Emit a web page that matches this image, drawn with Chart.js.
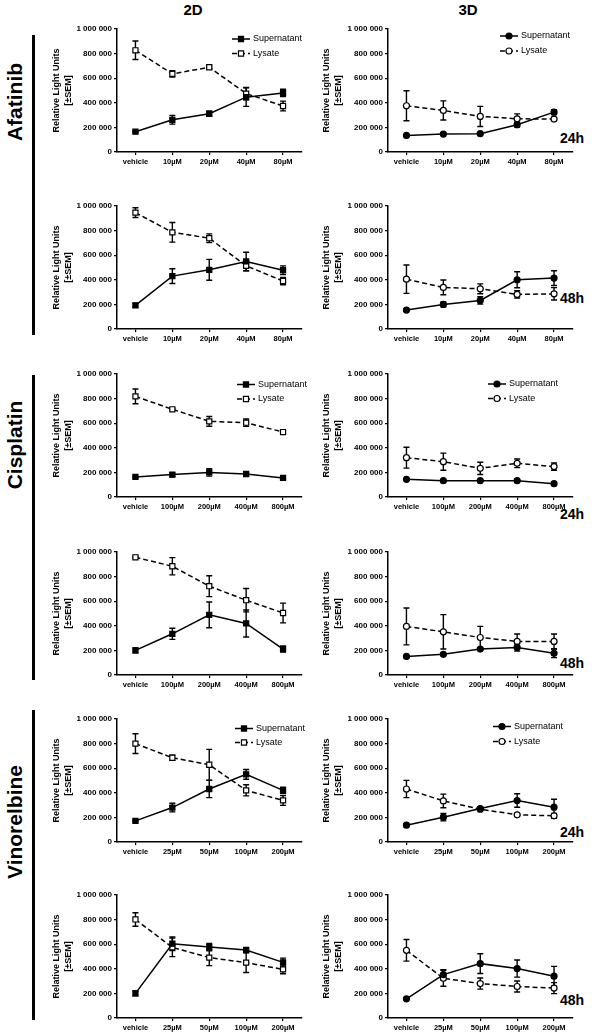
<!DOCTYPE html>
<html><head><meta charset="utf-8">
<script src="https://cdn.jsdelivr.net/npm/chart.js@4.4.1/dist/chart.umd.min.js"></script>
<style>
body{margin:0;background:#fff;width:600px;height:1033px;position:relative;overflow:hidden;font-family:'Liberation Sans',Arial,sans-serif;color:#000;}
.box{position:absolute;width:270px;height:155px;}
.hdr{position:absolute;font-weight:bold;font-size:15px;width:60px;text-align:center;line-height:16px;}
.drug{position:absolute;font-weight:bold;font-size:21px;width:200px;height:24px;line-height:24px;text-align:center;transform:rotate(-90deg);}
.vbar{position:absolute;background:#000;width:3px;}
.time{position:absolute;font-weight:bold;font-size:14px;line-height:16px;}
</style>
</head><body>
<div class="hdr" style="left:163px;top:2px;">2D</div>
<div class="hdr" style="left:438px;top:2px;">3D</div>
<div class="drug" style="left:-85px;top:90px;">Afatinib</div>
<div class="drug" style="left:-85px;top:433px;">Cisplatin</div>
<div class="drug" style="left:-85px;top:810px;">Vinorelbine</div>
<div class="vbar" style="left:32px;top:35px;height:300px;"></div>
<div class="vbar" style="left:32px;top:375px;height:305px;"></div>
<div class="vbar" style="left:32px;top:710px;height:310px;"></div>
<div class="time" style="left:560px;top:130px;">24h</div>
<div class="time" style="left:560px;top:290px;">48h</div>
<div class="time" style="left:560px;top:506px;">24h</div>
<div class="time" style="left:560px;top:655px;">48h</div>
<div class="time" style="left:560px;top:824px;">24h</div>
<div class="time" style="left:560px;top:992px;">48h</div>
<div id="wrap"></div>
<script>
// ---- categories ----
const dosesAfatinib = ['vehicle','10µM','20µM','40µM','80µM'];
const dosesCisplatin = ['vehicle','100µM','200µM','400µM','800µM'];
const dosesVinorelbine = ['vehicle','25µM','50µM','100µM','200µM'];
const seriesNames = ['Supernatant','Lysate'];
const yTickStep = 200000;
const yMax = 1000000;

// ---- Afatinib ----
const afa24_2d_sup = [165000, 262000, 311000, 446000, 480000];
const afa24_2d_supSem = [8000, 35000, 20000, 75000, 30000];
const afa24_2d_lys = [827000, 635000, 689000, 475000, 374000];
const afa24_2d_lysSem = [75000, 25000, 10000, 50000, 40000];
const afa24_3d_sup = [135000, 146000, 149000, 222000, 324000];
const afa24_3d_supSem = [5000, 5000, 5000, 20000, 20000];
const afa24_3d_lys = [376000, 338000, 289000, 270000, 268000];
const afa24_3d_lysSem = [122000, 78000, 82000, 40000, 12000];
const afa48_2d_sup = [192000, 430000, 481000, 549000, 478000];
const afa48_2d_supSem = [15000, 60000, 85000, 75000, 35000];
const afa48_2d_lys = [946000, 786000, 738000, 514000, 390000];
const afa48_2d_lysSem = [40000, 80000, 35000, 40000, 30000];
const afa48_3d_sup = [154000, 200000, 232000, 400000, 414000];
const afa48_3d_supSem = [5000, 20000, 30000, 65000, 60000];
const afa48_3d_lys = [405000, 338000, 327000, 281000, 286000];
const afa48_3d_lysSem = [115000, 60000, 40000, 30000, 50000];

// ---- Cisplatin ----
const cis24_2d_sup = [163000, 182000, 200000, 187000, 155000];
const cis24_2d_supSem = [5000, 15000, 30000, 8000, 5000];
const cis24_2d_lys = [818000, 713000, 615000, 604000, 528000];
const cis24_2d_lysSem = [60000, 8000, 40000, 30000, 10000];
const cis24_3d_sup = [144000, 133000, 133000, 133000, 108000];
const cis24_3d_supSem = [5000, 5000, 5000, 5000, 5000];
const cis24_3d_lys = [320000, 287000, 233000, 274000, 247000];
const cis24_3d_lysSem = [85000, 70000, 50000, 35000, 30000];
const cis48_2d_sup = [200000, 335000, 489000, 419000, 211000];
const cis48_2d_supSem = [20000, 45000, 105000, 110000, 25000];
const cis48_2d_lys = [957000, 884000, 722000, 608000, 504000];
const cis48_2d_lysSem = [8000, 70000, 85000, 95000, 80000];
const cis48_3d_sup = [151000, 168000, 211000, 224000, 176000];
const cis48_3d_supSem = [5000, 5000, 10000, 30000, 35000];
const cis48_3d_lys = [395000, 351000, 305000, 273000, 273000];
const cis48_3d_lysSem = [150000, 140000, 90000, 60000, 60000];

// ---- Vinorelbine ----
const vin24_2d_sup = [172000, 280000, 431000, 550000, 420000];
const vin24_2d_supSem = [5000, 35000, 70000, 40000, 25000];
const vin24_2d_lys = [800000, 685000, 628000, 420000, 338000];
const vin24_2d_lysSem = [80000, 20000, 125000, 45000, 40000];
const vin24_3d_sup = [137000, 202000, 272000, 337000, 283000];
const vin24_3d_supSem = [5000, 30000, 15000, 55000, 65000];
const vin24_3d_lys = [431000, 334000, 267000, 221000, 213000];
const vin24_3d_lysSem = [70000, 55000, 10000, 5000, 20000];
const vin48_2d_sup = [200000, 604000, 577000, 553000, 452000];
const vin48_2d_supSem = [20000, 55000, 30000, 15000, 35000];
const vin48_2d_lys = [801000, 574000, 491000, 450000, 395000];
const vin48_2d_lysSem = [55000, 75000, 65000, 80000, 35000];
const vin48_3d_sup = [156000, 353000, 442000, 402000, 340000];
const vin48_3d_supSem = [5000, 40000, 80000, 70000, 80000];
const vin48_3d_lys = [550000, 323000, 280000, 256000, 243000];
const vin48_3d_lysSem = [88000, 65000, 45000, 45000, 45000];

const FONT = "'Liberation Sans', Arial, sans-serif";

function drawMarker(ctx, style, filled, x, y, r){
  ctx.save();
  ctx.fillStyle = filled ? '#000' : '#fff';
  ctx.strokeStyle = '#000';
  ctx.lineWidth = 1.2;
  ctx.setLineDash([]);
  ctx.beginPath();
  if (style === 'rect') { const s = Math.SQRT1_2 * r; ctx.rect(x - s, y - s, 2*s, 2*s); }
  else { ctx.arc(x, y, r, 0, Math.PI*2); }
  ctx.fill(); ctx.stroke();
  ctx.restore();
}

const errPlugin = {
  id: 'errbars',
  beforeDatasetsDraw(chart){
    const ctx = chart.ctx, ys = chart.scales.y;
    chart.data.datasets.forEach((ds, i) => {
      const meta = chart.getDatasetMeta(i);
      meta.data.forEach((pt, j) => {
        const e = ds.errors[j]; if (!e) return;
        const v = ds.data[j];
        const yt = ys.getPixelForValue(v + e), yb = ys.getPixelForValue(v - e);
        ctx.save(); ctx.strokeStyle = '#000'; ctx.lineWidth = 1.4; ctx.setLineDash([]);
        ctx.beginPath();
        ctx.moveTo(pt.x, yt); ctx.lineTo(pt.x, yb);
        ctx.moveTo(pt.x - 3, yt); ctx.lineTo(pt.x + 3, yt);
        ctx.moveTo(pt.x - 3, yb); ctx.lineTo(pt.x + 3, yb);
        ctx.stroke(); ctx.restore();
      });
    });
  }
};

const legendPlugin = {
  id: 'inlegend',
  afterDatasetsDraw(chart, args, opts){
    if (!opts || !opts.show) return;
    const ctx = chart.ctx, a = chart.chartArea;
    chart.data.datasets.forEach((ds, i) => {
      const x0 = a.left + opts.x, y = a.top + opts.ys[i];
      ctx.save();
      ctx.strokeStyle = '#000'; ctx.lineWidth = 1.5;
      ctx.setLineDash(ds.borderDash || []);
      ctx.beginPath(); ctx.moveTo(x0, y); ctx.lineTo(x0 + 18, y); ctx.stroke();
      ctx.restore();
      drawMarker(ctx, ds.pointStyle, ds.pointBackgroundColor === '#000', x0 + 9, y, ds.pointRadius);
      ctx.save();
      ctx.fillStyle = '#000'; ctx.font = '9px ' + FONT; ctx.textBaseline = 'middle'; ctx.textAlign = 'left';
      ctx.fillText(ds.label, x0 + 21, y);
      ctx.restore();
    });
  }
};

function fmt(v){ return v === 0 ? '0' : String(v).replace(/\B(?=(\d{3})+(?!\d))/g, ' '); }

function panel(left, top, labels, sup, supSem, lys, lysSem, kind, legend){
  const wrap = document.getElementById('wrap');
  const d = document.createElement('div');
  d.className = 'box';
  d.style.left = left + 'px'; d.style.top = (top - 10) + 'px';
  const c = document.createElement('canvas');
  c.width = 270; c.height = 155;
  d.appendChild(c); wrap.appendChild(d);
  const ps = kind === '2d' ? 'rect' : 'circle';
  const pr = kind === '2d' ? 3.6 : 3;
  const yW = kind === '2d' ? 77 : 78;
  new Chart(c, {
    type: 'line',
    data: {
      labels: labels,
      datasets: [
        { label: seriesNames[0], data: sup, errors: supSem, borderColor: '#000', borderWidth: 1.5,
          pointStyle: ps, pointRadius: pr, pointBackgroundColor: '#000', pointBorderColor: '#000', pointBorderWidth: 1.2, tension: 0, fill: false },
        { label: seriesNames[1], data: lys, errors: lysSem, borderColor: '#000', borderWidth: 1.5, borderDash: [5, 3],
          pointStyle: ps, pointRadius: pr, pointBackgroundColor: '#fff', pointBorderColor: '#000', pointBorderWidth: 1.2, tension: 0, fill: false }
      ]
    },
    options: {
      responsive: false, animation: false, devicePixelRatio: 1,
      layout: { padding: { left: 0, top: 10, right: 270 - yW - 184.5, bottom: 0 } },
      plugins: { legend: { display: false }, tooltip: { enabled: false }, inlegend: legend },
      scales: {
        x: {
          type: 'category', offset: true,
          grid: { display: true, drawOnChartArea: false, tickLength: 3, color: '#000', lineWidth: 1.2 },
          border: { color: '#000', width: 1.5 },
          ticks: { color: '#000', font: { family: FONT, size: 7.5, weight: 'bold' }, padding: 2, maxRotation: 0, autoSkip: false },
          afterFit(s){ s.height = 22; s.paddingLeft = 0; s.paddingRight = 0; s.paddingTop = 0; s.paddingBottom = 0; }
        },
        y: {
          min: 0, max: yMax,
          grid: { display: true, drawOnChartArea: false, tickLength: 3, color: '#000', lineWidth: 1.2 },
          border: { color: '#000', width: 1.5 },
          ticks: { stepSize: yTickStep, color: '#000', font: { family: FONT, size: 8, weight: 'bold' }, padding: 2, callback: fmt },
          title: { display: true, text: ['Relative Light Units', '[±SEM]'], color: '#000',
                   font: { family: FONT, size: 9, weight: 'bold', lineHeight: 1.35 }, padding: { top: 10, bottom: 0 } },
          afterFit(s){ s.width = yW; s.paddingTop = 0; s.paddingBottom = 0; s.paddingLeft = 0; s.paddingRight = 0; }
        }
      }
    },
    plugins: [errPlugin, legendPlugin]
  });
}

const rowTops = [29, 206, 374, 552, 719, 895];
panel(40, rowTops[0], dosesAfatinib, afa24_2d_sup, afa24_2d_supSem, afa24_2d_lys, afa24_2d_lysSem, '2d', { show: true, x: 115, ys: [10, 24.5] });
panel(310, rowTops[0], dosesAfatinib, afa24_3d_sup, afa24_3d_supSem, afa24_3d_lys, afa24_3d_lysSem, '3d', { show: true, x: 112, ys: [7, 22] });
panel(40, rowTops[1], dosesAfatinib, afa48_2d_sup, afa48_2d_supSem, afa48_2d_lys, afa48_2d_lysSem, '2d', { show: false });
panel(310, rowTops[1], dosesAfatinib, afa48_3d_sup, afa48_3d_supSem, afa48_3d_lys, afa48_3d_lysSem, '3d', { show: false });
panel(40, rowTops[2], dosesCisplatin, cis24_2d_sup, cis24_2d_supSem, cis24_2d_lys, cis24_2d_lysSem, '2d', { show: true, x: 120, ys: [10.5, 25] });
panel(310, rowTops[2], dosesCisplatin, cis24_3d_sup, cis24_3d_supSem, cis24_3d_lys, cis24_3d_lysSem, '3d', { show: true, x: 100, ys: [10, 24.5] });
panel(40, rowTops[3], dosesCisplatin, cis48_2d_sup, cis48_2d_supSem, cis48_2d_lys, cis48_2d_lysSem, '2d', { show: false });
panel(310, rowTops[3], dosesCisplatin, cis48_3d_sup, cis48_3d_supSem, cis48_3d_lys, cis48_3d_lysSem, '3d', { show: false });
panel(40, rowTops[4], dosesVinorelbine, vin24_2d_sup, vin24_2d_supSem, vin24_2d_lys, vin24_2d_lysSem, '2d', { show: true, x: 118, ys: [9.5, 23.5] });
panel(310, rowTops[4], dosesVinorelbine, vin24_3d_sup, vin24_3d_supSem, vin24_3d_lys, vin24_3d_lysSem, '3d', { show: true, x: 105, ys: [7.5, 22.5] });
panel(40, rowTops[5], dosesVinorelbine, vin48_2d_sup, vin48_2d_supSem, vin48_2d_lys, vin48_2d_lysSem, '2d', { show: false });
panel(310, rowTops[5], dosesVinorelbine, vin48_3d_sup, vin48_3d_supSem, vin48_3d_lys, vin48_3d_lysSem, '3d', { show: false });
</script>
</body></html>
